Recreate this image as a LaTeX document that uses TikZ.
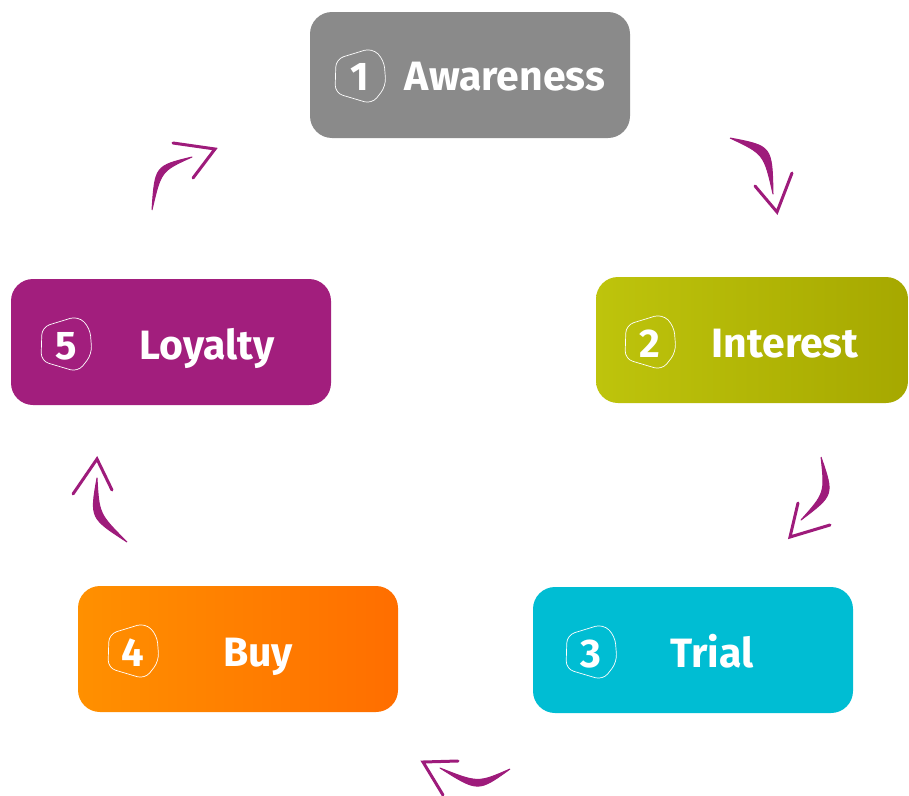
\documentclass[tikz,border=0pt]{standalone}
\usepackage{fontspec}
\setmainfont{Fira Sans}
\usetikzlibrary{positioning}

\definecolor{awaregray}{HTML}{8A8A8A}
\definecolor{limeL}{HTML}{BEC40C}
\definecolor{limeR}{HTML}{A6A800}
\definecolor{trialcyan}{HTML}{00BDD3}
\definecolor{orangeL}{HTML}{FF9000}
\definecolor{orangeR}{HTML}{FF6E00}
\definecolor{loyalpurple}{HTML}{A21E7D}
\definecolor{brushpurple}{HTML}{9E1B7B}

\tikzset{
  stage/.style={rounded corners=22pt, minimum width=320pt, minimum height=126pt,
    inner sep=0pt},
  num/.style={text=white, font=\fontsize{40}{46}\selectfont\bfseries, anchor=base},
  lbl/.style={text=white, font=\fontsize{41}{48}\selectfont\bfseries, anchor=base},
  brush/.style={fill=brushpurple, draw=brushpurple, line width=1pt, line join=round},
  barb/.style={draw=brushpurple, line width=3pt, line cap=round},
  badge/.pic={
    \draw[white, line width=0.7pt, rounded corners=8pt]
      (-24,-17) -- (12,-28) -- (24,-16) -- (26,10) -- (12,28) -- (-25,17) -- cycle;
  }
}

\begin{document}
\begin{tikzpicture}[x=1pt, y=-1pt]
\useasboundingbox (0,0) rectangle (909,795);

% stage boxes
\node[stage, fill=awaregray] (aware) at (470,75) {};
\node[stage, minimum width=312pt, left color=limeL, right color=limeR] (inter) at (752,340) {};
\node[stage, fill=trialcyan] (trial) at (693,650) {};
\node[stage, left color=orangeL, right color=orangeR] (buy) at (238,649) {};
\node[stage, fill=loyalpurple] (loyal) at (171,342) {};

% numbers and labels
\node[num] (n1) at (360,90) {1};
\node[lbl] (l1) at (505,90) {Awareness};
\pic at (360,76) {badge};
\node[num] (n2) at (650,357) {2};
\node[lbl] (l2) at (785,357) {Interest};
\pic at (650,342) {badge};
\node[num] (n3) at (591,667) {3};
\node[lbl] (l3) at (712,667) {Trial};
\pic at (591,652) {badge};
\node[num] (n4) at (133,666) {4};
\node[lbl] (l4) at (258,666) {Buy};
\pic at (133,651) {badge};
\node[num] (n5) at (66,359) {5};
\node[lbl] (l5) at (207,359) {Loyalty};
\pic at (66,344) {badge};

% brush arrows, clockwise
\coordinate (a1s) at (730,138);
\coordinate (a1e) at (773,194);
\coordinate (a1t) at (777,212);
\filldraw[brush] (a1s) .. controls (772,146) .. (a1e) .. controls (764,154) .. (a1s);
\draw[barb] (755,186) -- (a1t) -- (792,173);

\coordinate (a2s) at (821,457);
\coordinate (a2e) at (801,520);
\coordinate (a2t) at (790,537);
\filldraw[brush] (a2s) .. controls (834,495) .. (a2e) .. controls (825,493) .. (a2s);
\draw[barb] (798,503) -- (a2t) -- (830,525);

\coordinate (a3s) at (510,769);
\coordinate (a3e) at (440,768);
\coordinate (a3t) at (423,762);
\filldraw[brush] (a3s) .. controls (478,792) .. (a3e) .. controls (478,783) .. (a3s);
\draw[barb] (458,761) -- (a3t) -- (443,795);

\coordinate (a4s) at (127,542);
\coordinate (a4e) at (97,478);
\coordinate (a4t) at (97,459);
\filldraw[brush] (a4s) .. controls (90,518) .. (a4e) .. controls (99,514) .. (a4s);
\draw[barb] (73,494) -- (a4t) -- (112,490);

\coordinate (a5s) at (152,210);
\coordinate (a5e) at (192,157);
\coordinate (a5t) at (215,149);
\filldraw[brush] (a5s) .. controls (155,166) .. (a5e) .. controls (161,171) .. (a5s);
\draw[barb] (173,143) -- (a5t) -- (193,178);
\end{tikzpicture}
\end{document}
